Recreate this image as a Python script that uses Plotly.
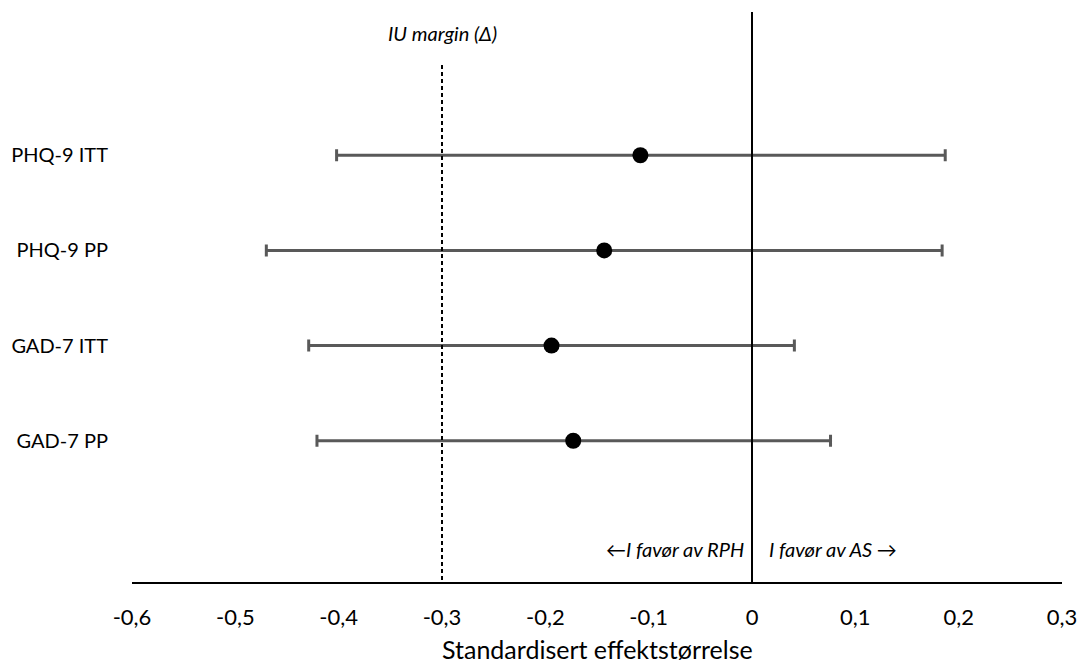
import plotly.graph_objects as go

categories = ["PHQ-9 ITT", "PHQ-9 PP", "GAD-7 ITT", "GAD-7 PP"]
estimates = [-0.108, -0.143, -0.194, -0.173]
ci_low = [-0.402, -0.470, -0.429, -0.421]
ci_high = [0.187, 0.184, 0.041, 0.076]
tick_vals = [-0.6, -0.5, -0.4, -0.3, -0.2, -0.1, 0, 0.1, 0.2, 0.3]
tick_text = ["-0,6", "-0,5", "-0,4", "-0,3", "-0,2", "-0,1", "0", "0,1", "0,2", "0,3"]
x_title = "Standardisert effektstørrelse"
iu_margin = -0.3

FONT = "Lato"

err_plus = [h - e for h, e in zip(ci_high, estimates)]
err_minus = [e - l for e, l in zip(estimates, ci_low)]
ypos = list(range(len(categories)))

fig = go.Figure()
fig.add_trace(go.Scatter(
    x=estimates, y=ypos, mode="markers",
    marker=dict(color="black", size=16),
    error_x=dict(type="data", symmetric=False, array=err_plus, arrayminus=err_minus,
                 color="#595959", thickness=3, width=6),
    showlegend=False, hoverinfo="x+y",
))

# zero line (full height) and IU margin line
fig.add_shape(type="line", xref="x", yref="paper", x0=0, x1=0, y0=0, y1=1,
              line=dict(color="black", width=2))
fig.add_shape(type="line", xref="x", yref="y", x0=iu_margin, x1=iu_margin, y0=-0.947, y1=4.484,
              line=dict(color="black", width=2, dash="4px,3px"))

fig.add_annotation(x=iu_margin, y=-1.284, xref="x", yref="y", text="<i>IU margin (Δ)</i>",
                   showarrow=False, font=dict(family=FONT, size=20, color="black"))
fig.add_annotation(x=0, y=4.137, xref="x", yref="y", text="<i>←I favør av RPH</i>",
                   showarrow=False, xanchor="right", xshift=-6,
                   font=dict(family=FONT, size=20, color="black"))
fig.add_annotation(x=0, y=4.137, xref="x", yref="y", text="<i>I favør av AS →</i>",
                   showarrow=False, xanchor="left", xshift=15,
                   font=dict(family=FONT, size=20, color="black"))
# x-axis title
fig.add_annotation(x=0.5, y=-0.118, xref="paper", yref="paper", text=x_title,
                   showarrow=False, xanchor="center", yanchor="middle", borderpad=0,
                   font=dict(family=FONT, size=25, color="black"))

fig.update_layout(
    width=1082, height=663,
    margin=dict(l=132, r=20, t=12, b=81),
    paper_bgcolor="white", plot_bgcolor="white",
    font=dict(family=FONT, size=20, color="black"),
    xaxis=dict(range=[-0.6, 0.3], tickvals=tick_vals, ticktext=tick_text,
               showgrid=False, zeroline=False, ticks="", automargin=False,
               showline=True, linecolor="black", linewidth=2,
               tickfont=dict(size=22), ticklabelstandoff=15),
    yaxis=dict(range=[4.484, -1.505], tickvals=ypos, ticktext=categories,
               showgrid=False, zeroline=False, showline=False, ticks="", automargin=False,
               tickfont=dict(size=20), ticklabelstandoff=23),
)

fig.write_html("out.html",
               config={"displayModeBar": False},
               post_script="document.body.style.margin='0';document.body.style.overflow='hidden';")
